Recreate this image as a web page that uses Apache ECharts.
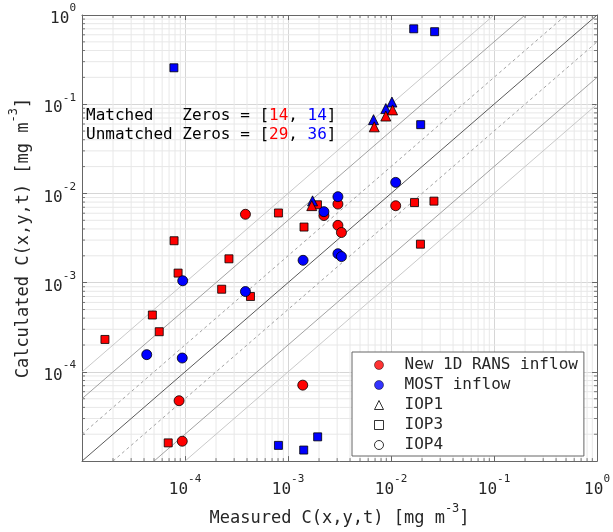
<!DOCTYPE html>
<html>
<head>
<meta charset="utf-8">
<script src="https://cdn.jsdelivr.net/npm/echarts@6/dist/echarts.min.js"></script>
<style>
  html, body { margin: 0; padding: 0; background: #fff; }
  #chart { width: 613px; height: 532px; }
</style>
</head>
<body>
<div id="chart"></div>
<script>
const FONT = 'DejaVu Sans Mono'
const AXIS_MIN = 1e-5
const AXIS_MAX = 1

// measured / calculated pairs
const ransIOP1 = [[6.87e-3, 0.0558], [8.9e-3, 0.0737], [1.035e-2, 0.0864], [1.7e-3, 7.3e-3]]
const mostIOP1 = [[6.76e-3, 0.0671], [8.9e-3, 0.0893], [1.02e-2, 0.1057], [1.73e-3, 8.26e-3]]
const ransIOP3 = [
  [1.67e-5, 2.31e-4], [4.82e-5, 4.34e-4], [5.62e-5, 2.82e-4], [7.83e-5, 2.95e-3],
  [8.57e-5, 1.28e-3], [2.67e-4, 1.85e-3], [2.27e-4, 8.44e-4], [4.32e-4, 7.0e-4],
  [8.07e-4, 6.04e-3], [1.43e-3, 4.2e-3], [1.93e-3, 7.46e-3], [1.69e-2, 7.9e-3],
  [2.61e-2, 8.2e-3], [1.93e-2, 2.7e-3], [6.87e-5, 1.6e-5]
]
const mostIOP3 = [
  [7.8e-5, 0.256], [1.66e-2, 0.70], [2.65e-2, 0.65], [1.94e-2, 0.059],
  [8.07e-4, 1.5e-5], [1.42e-3, 1.33e-5], [1.94e-3, 1.87e-5]
]
const ransIOP4 = [
  [3.86e-4, 5.84e-3], [2.23e-3, 5.65e-3], [3.05e-3, 7.6e-3], [3.05e-3, 4.39e-3],
  [3.3e-3, 3.65e-3], [1.11e-2, 7.28e-3], [8.76e-5, 4.75e-5], [9.4e-5, 1.67e-5],
  [1.39e-3, 7.1e-5]
]
const mostIOP4 = [
  [9.5e-5, 1.05e-3], [3.86e-4, 7.95e-4], [1.40e-3, 1.78e-3], [2.23e-3, 6.25e-3],
  [3.05e-3, 9.2e-3], [3.05e-3, 2.11e-3], [3.3e-3, 1.96e-3], [1.11e-2, 1.33e-2],
  [4.25e-5, 1.56e-4], [9.4e-5, 1.43e-4]
]

const legendNames = ['New 1D RANS inflow', 'MOST inflow', 'IOP1', 'IOP3', 'IOP4']
const matchedZeros = [14, 14]
const unmatchedZeros = [29, 36]

// factor-of lines: 1:1, 2, 5, 10
const ratioLines = [
  { k: 1, color: '#5a5a5a', type: 'solid', width: 1 },
  { k: 2, color: '#8a8a8a', type: [3, 3], width: 0.8 },
  { k: 0.5, color: '#8a8a8a', type: [3, 3], width: 0.8 },
  { k: 5, color: '#8a8a8a', type: 'solid', width: 0.8 },
  { k: 0.2, color: '#8a8a8a', type: 'solid', width: 0.8 },
  { k: 10, color: '#bbb', type: 'solid', width: 0.8 },
  { k: 0.1, color: '#bbb', type: 'solid', width: 0.8 }
]

// minor grid positions 2..9 in every decade
const minorValues = []
for (let e = -5; e < 0; e++) {
  for (let m = 2; m <= 9; m++) minorValues.push(m * Math.pow(10, e))
}

const RED = '#ff0000'
const BLUE = '#0000ff'

const powLabel = v => {
  const e = Math.round(Math.log10(v))
  if (e === -5) return ''
  return '{b|10}{s|' + e + '}'
}
const labelRich = {
  b: { fontFamily: FONT, fontSize: 16, color: '#262626', verticalAlign: 'bottom', lineHeight: 24 },
  s: { fontFamily: FONT, fontSize: 11, color: '#262626', verticalAlign: 'top', lineHeight: 14 }
}
const nameRich = {
  t: { fontFamily: FONT, fontSize: 17, color: '#262626', verticalAlign: 'bottom', lineHeight: 24 },
  s: { fontFamily: FONT, fontSize: 12, color: '#262626', verticalAlign: 'top', lineHeight: 14 }
}

const baseAxis = {
  type: 'log',
  logBase: 10,
  min: AXIS_MIN,
  max: AXIS_MAX,
  axisLine: { lineStyle: { color: '#666', width: 1 } },
  axisTick: { inside: true, length: 5, lineStyle: { color: '#666' } },
  splitLine: { show: false }
}

const lineSeries = ratioLines.map(r => {
  const start = r.k >= 1 ? [AXIS_MIN, AXIS_MIN * r.k] : [AXIS_MIN / r.k, AXIS_MIN]
  const end = r.k >= 1 ? [AXIS_MAX / r.k, AXIS_MAX] : [AXIS_MAX, AXIS_MAX * r.k]
  return {
    type: 'line',
    data: [start, end],
    symbol: 'none',
    silent: true,
    z: 2,
    lineStyle: { color: r.color, type: r.type, width: r.width }
  }
})

const minorRender = (axis) => (params, api) => {
  const v = api.value(axis === 'x' ? 0 : 1)
  const a = axis === 'x' ? api.coord([v, AXIS_MIN]) : api.coord([AXIS_MIN, v])
  const b = axis === 'x' ? api.coord([v, AXIS_MAX]) : api.coord([AXIS_MAX, v])
  const dx = axis === 'x' ? 0 : 3
  const dy = axis === 'x' ? -3 : 0
  return {
    type: 'group',
    children: [
      { type: 'line', shape: { x1: a[0], y1: a[1], x2: b[0], y2: b[1] }, style: { stroke: '#e8e8e8', lineWidth: 1 } },
      { type: 'line', shape: { x1: a[0], y1: a[1], x2: a[0] + dx, y2: a[1] + dy }, style: { stroke: '#777', lineWidth: 1 } },
      { type: 'line', shape: { x1: b[0], y1: b[1], x2: b[0] - dx, y2: b[1] - dy }, style: { stroke: '#777', lineWidth: 1 } }
    ]
  }
}

const scatter = (data, color, symbol, size, z) => ({
  type: 'scatter',
  data,
  symbol,
  symbolSize: size,
  z,
  itemStyle: { color, borderColor: '#000', borderWidth: 0.8, opacity: 1 }
})

const annoRich = {
  k: { fontFamily: FONT, fontSize: 16, color: '#000', lineHeight: 19 },
  r: { fontFamily: FONT, fontSize: 16, color: RED, lineHeight: 19 },
  u: { fontFamily: FONT, fontSize: 16, color: BLUE, lineHeight: 19 }
}

const chart = echarts.init(document.getElementById('chart'))
chart.setOption({
  animation: false,
  backgroundColor: '#fff',
  grid: { left: 79, right: 14, top: 15, bottom: 61 },
  title: {
    left: 86,
    top: 106,
    padding: 0,
    text: '{k|Matched   Zeros = [}{r|' + matchedZeros[0] + '}{k|, }{u|' + matchedZeros[1] + '}{k|]}\n' +
          '{k|Unmatched Zeros = [}{r|' + unmatchedZeros[0] + '}{k|, }{u|' + unmatchedZeros[1] + '}{k|]}',
    textStyle: { fontFamily: FONT, fontSize: 16, fontWeight: 'normal', rich: annoRich }
  },
  xAxis: [
    {
      ...baseAxis,
      position: 'bottom',
      name: '{t|Measured C(x,y,t) [mg m}{s|-3}{t|]}',
      nameLocation: 'middle',
      nameGap: 39,
      nameTextStyle: { rich: nameRich },
      axisLabel: { formatter: powLabel, rich: labelRich, margin: 13 },
      splitLine: { show: true, lineStyle: { color: '#d6d6d6', width: 1 } }
    },
    { ...baseAxis, position: 'top', axisLabel: { show: false } }
  ],
  yAxis: [
    {
      ...baseAxis,
      position: 'left',
      name: '{t|Calculated C(x,y,t) [mg m}{s|-3}{t|]}',
      nameLocation: 'middle',
      nameRotate: 90,
      nameGap: 50,
      nameTextStyle: { rich: nameRich },
      axisLabel: { formatter: powLabel, rich: labelRich, margin: 6 },
      splitLine: { show: true, lineStyle: { color: '#d6d6d6', width: 1 } }
    },
    { ...baseAxis, position: 'right', axisLabel: { show: false } }
  ],
  legend: {
    orient: 'vertical',
    left: 352,
    top: 352,
    padding: [5, 6, 3, 22],
    itemGap: 4,
    itemWidth: 9,
    itemHeight: 9,
    backgroundColor: '#fff',
    borderColor: '#666',
    borderWidth: 1,
    borderRadius: 0,
    selectedMode: false,
    textStyle: { fontFamily: FONT, fontSize: 16, color: '#262626', padding: [0, 0, 0, 16] },
    data: [
      { name: legendNames[0], icon: 'circle', itemStyle: { color: RED, borderColor: '#000', borderWidth: 0.6 } },
      { name: legendNames[1], icon: 'circle', itemStyle: { color: BLUE, borderColor: '#000', borderWidth: 0.6 } },
      { name: legendNames[2], icon: 'triangle', itemStyle: { color: '#fff', borderColor: '#000', borderWidth: 1 } },
      { name: legendNames[3], icon: 'rect', itemStyle: { color: '#fff', borderColor: '#000', borderWidth: 1 } },
      { name: legendNames[4], icon: 'circle', itemStyle: { color: '#fff', borderColor: '#000', borderWidth: 1 } }
    ]
  },
  series: [
    { type: 'custom', data: minorValues.map(v => [v, AXIS_MIN]), renderItem: minorRender('x'), silent: true, z: 0 },
    { type: 'custom', data: minorValues.map(v => [AXIS_MIN, v]), renderItem: minorRender('y'), silent: true, z: 0 },
    ...lineSeries,
    scatter(ransIOP3, RED, 'rect', 8, 3),
    scatter(mostIOP3, BLUE, 'rect', 8, 3),
    scatter(ransIOP4, RED, 'circle', 10, 4),
    scatter(mostIOP4, BLUE, 'circle', 10, 5),
    scatter(mostIOP1, BLUE, 'triangle', 10, 6),
    scatter(ransIOP1, RED, 'triangle', 10, 7),
    ...legendNames.map(n => ({ type: 'scatter', name: n, data: [] }))
  ]
})
</script>
</body>
</html>
